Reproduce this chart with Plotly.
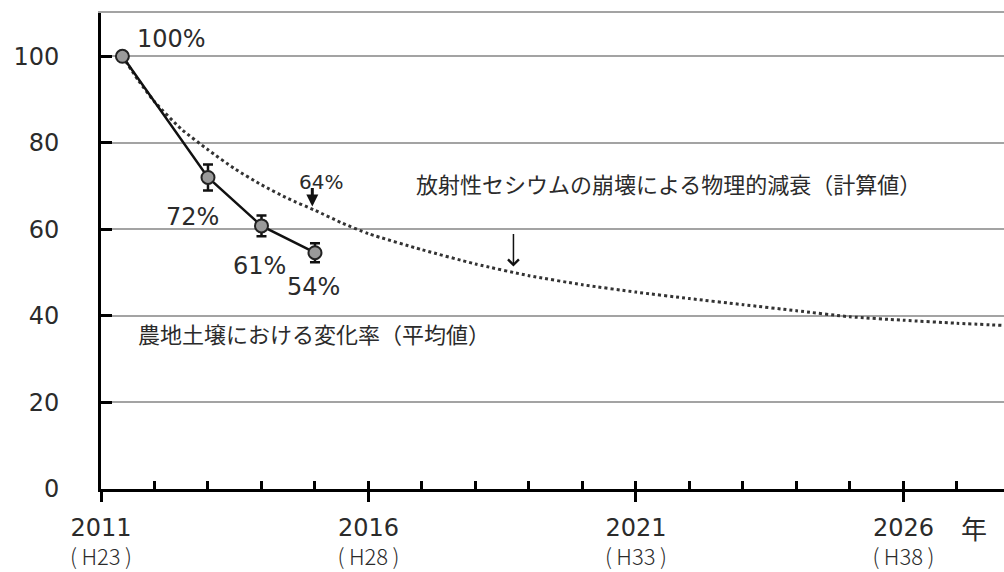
import plotly.graph_objects as go

# ---------------- data ----------------
soil_years = [2011.4, 2013.0, 2014.0, 2015.0]
soil_values = [100, 72.0, 60.8, 54.6]
soil_err = [0, 3.0, 2.4, 2.2]
soil_labels = ["100%", "72%", "61%", "54%"]
soil_label_x = [2012.31, 2012.71, 2013.96, 2014.97]
soil_label_y = [104.1, 62.8, 51.6, 46.7]

decay_years = [2011.4, 2011.7, 2012.0, 2012.5, 2013.0, 2013.5, 2014.0, 2014.5,
               2015.0, 2015.5, 2016, 2017, 2018, 2019, 2020, 2021, 2022, 2023,
               2024, 2025, 2026, 2027, 2027.88]
decay_values = [100, 94.4, 89.5, 83.2, 78.4, 74.0, 70.3, 67.1,
                64.4, 61.5, 59.0, 55.3, 52.0, 49.3, 47.2, 45.5, 44.0, 42.6,
                41.2, 39.8, 39.0, 38.3, 37.8]

major_years = [2011, 2016, 2021, 2026]
major_labels = ["2011", "2016", "2021", "2026"]
heisei_labels = ["(\u2009H23\u2009)", "(\u2009H28\u2009)", "(\u2009H33\u2009)", "(\u2009H38\u2009)"]
minor_years = list(range(2011, 2028))
y_ticks = [0, 20, 40, 60, 80, 100]
y_range = [0, 110]
x_range = [2011, 2027.88]

decay_text = "放射性セシウムの崩壊による物理的減衰（計算値）"
soil_text = "農地土壌における変化率（平均値）"
year_unit = "年"

NUM_FONT = "DejaVu Sans"
JP_FONT = "Noto Sans CJK JP"
TXT = "#2b2b2b"
GRID = "#a3a3a3"

fig = go.Figure()

fig.add_trace(go.Scatter(
    x=decay_years, y=decay_values, mode="lines",
    line=dict(color="#333333", width=3, dash="3px,3px", shape="spline", smoothing=0.6),
    hoverinfo="skip", showlegend=False))

fig.add_trace(go.Scatter(
    x=soil_years, y=soil_values, mode="lines+markers",
    line=dict(color="#111111", width=2.5),
    marker=dict(size=13, color="#9a9a9a", line=dict(color="#222222", width=2)),
    error_y=dict(type="data", array=soil_err, visible=True, color="#111111",
                 thickness=2.5, width=5),
    showlegend=False))

# empty helper traces so the overlay axes (top frame line, minor ticks, era labels) get drawn
for ax_name in ["x2", "x3", "x4"]:
    fig.add_trace(go.Scatter(x=[], y=[], xaxis=ax_name, yaxis="y",
                             showlegend=False, hoverinfo="skip"))

fig.update_layout(
    width=1004, height=572,
    margin=dict(l=101, r=0, t=13, b=83, autoexpand=False),
    paper_bgcolor="white", plot_bgcolor="white",
    font=dict(family=NUM_FONT, color=TXT, size=24),
    xaxis=dict(range=x_range, tickvals=major_years, ticktext=major_labels,
               ticks="outside", ticklen=10, tickwidth=3, tickcolor="black",
               showline=True, linecolor="black", linewidth=3,
               showgrid=False, zeroline=False, automargin=False,
               tickfont=dict(family=NUM_FONT, size=24, color=TXT),
               ticklabelstandoff=5),
    xaxis2=dict(range=x_range, overlaying="x", anchor="y", side="top",
                showline=True, linecolor=GRID, linewidth=1.5, automargin=False,
                ticks="", showticklabels=False, showgrid=False, zeroline=False),
    xaxis3=dict(range=x_range, overlaying="x", anchor="y", side="bottom",
                tickvals=minor_years, ticks="inside", ticklen=8, tickwidth=3,
                tickcolor="black", showticklabels=False, showline=False,
                showgrid=False, zeroline=False, automargin=False),
    xaxis4=dict(range=x_range, overlaying="x", anchor="y", side="bottom",
                tickvals=major_years, ticktext=heisei_labels, ticks="",
                showline=False, showgrid=False, zeroline=False, automargin=False,
                tickfont=dict(family=JP_FONT, size=22, weight=300, color=TXT),
                ticklabelstandoff=53),
    yaxis=dict(range=y_range, tickvals=y_ticks, ticks="inside", ticklen=11,
               tickwidth=3, tickcolor="black", showline=True, linecolor="black",
               linewidth=3, showgrid=True, gridcolor=GRID, gridwidth=1.5,
               zeroline=False, automargin=False,
               tickfont=dict(family=NUM_FONT, size=24, color=TXT),
               ticklabelstandoff=34),
)

annotations = []
for t, x, y in zip(soil_labels, soil_label_x, soil_label_y):
    annotations.append(dict(x=x, y=y, xref="x", yref="y", text=t, showarrow=False,
                            font=dict(family=NUM_FONT, size=24, color=TXT)))
annotations += [
    dict(x=2015.12, y=70.9, xref="x", yref="y", text="64%", showarrow=False,
         font=dict(family=NUM_FONT, size=20, color=TXT)),
    dict(x=2014.95, y=65.3, xref="x", yref="y", text="", showarrow=True,
         ax=0, ay=-20, arrowhead=2, arrowsize=0.8, arrowwidth=3, arrowcolor="#111111"),
    dict(x=2018.71, y=51.4, xref="x", yref="y", text="", showarrow=True,
         ax=0, ay=-34, arrowhead=4, arrowsize=1.4, arrowwidth=1.5, arrowcolor="#111111"),
    dict(x=2021.6, y=70.7, xref="x", yref="y", text=decay_text, showarrow=False,
         font=dict(family=JP_FONT, size=22, color=TXT)),
    dict(x=2014.99, y=36.1, xref="x", yref="y", text=soil_text, showarrow=False,
         font=dict(family=JP_FONT, size=22, color=TXT)),
    dict(x=2027.32, y=-0.08, xref="x", yref="paper", yanchor="middle", text=year_unit,
         showarrow=False, font=dict(family=JP_FONT, size=26, color=TXT)),
]
fig.update_layout(annotations=annotations)

fig.write_html("out.html", config={"displayModeBar": False},
               post_script="document.body.style.margin='0';")
